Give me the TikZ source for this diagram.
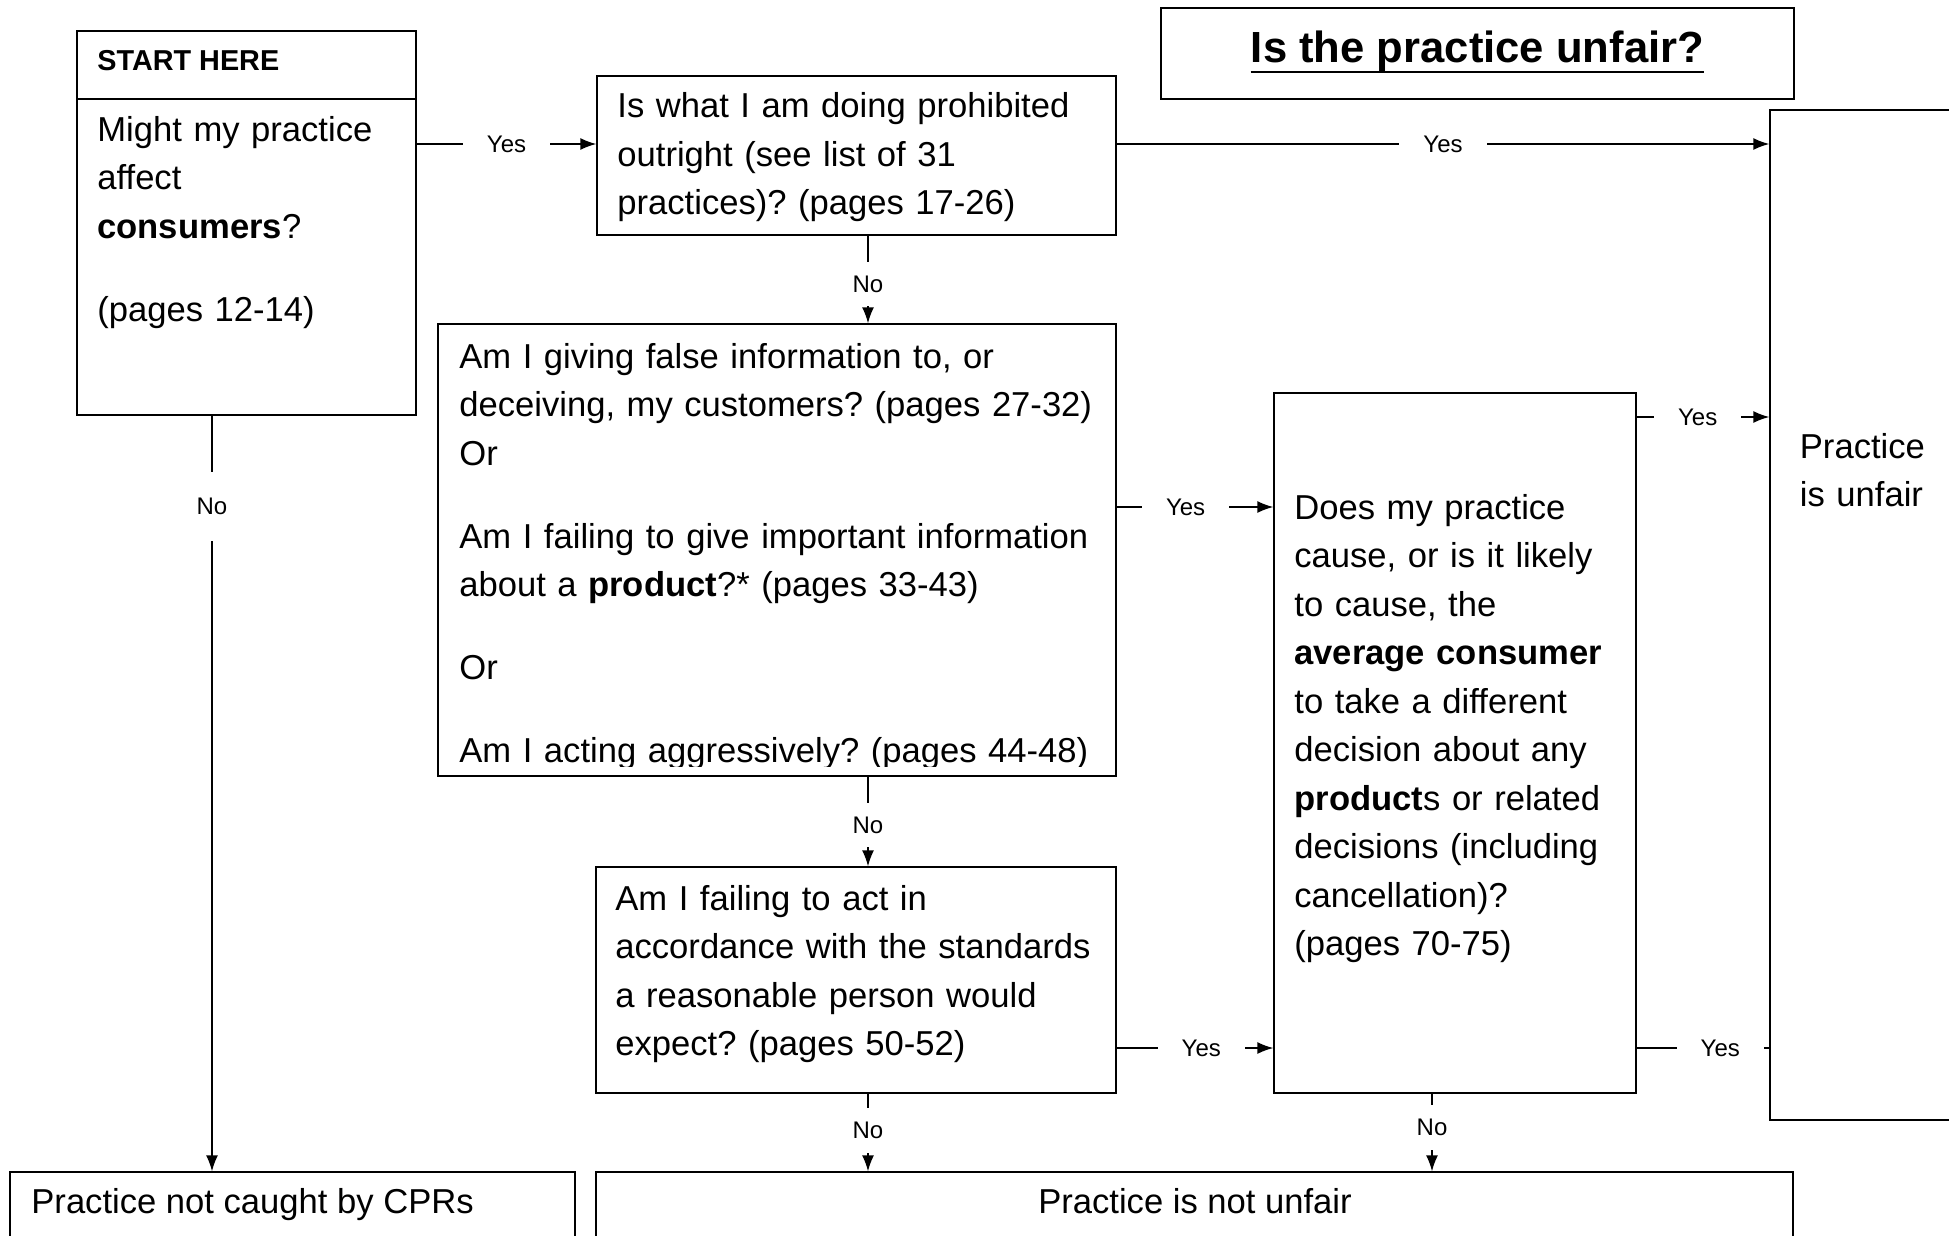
\documentclass[tikz,border=0pt]{standalone}
\usepackage{fontspec}
\setmainfont{Liberation Sans}
\usepackage{tikz}
\usetikzlibrary{arrows.meta}
\usetikzlibrary{fit}
\frenchspacing
\tikzset{box/.style={draw, line width=0.7pt, inner sep=0pt, fit={#1}}}
\tikzset{txt/.style={anchor=base west, inner sep=0pt, align=left, font=\fontsize{17.3}{24.25}\selectfont}}
\tikzset{lbl/.style={fill=white, inner xsep=12pt, inner ysep=7pt, font=\fontsize{12}{14}\selectfont}}
\tikzset{link/.style={line width=0.7pt}}
\tikzset{arr/.style={link, -{Latex[length=8pt,width=6pt]}}}

\begin{document}
\begin{tikzpicture}[x=0.5pt,y=-0.5pt]
\useasboundingbox (0,0) rectangle (1949,1236);
% boxes
\node[box={(77,31) (416,99)}] (head) {};
\node[box={(77,99) (416,415)}] (start) {};
\node[box={(1161,8) (1794,99)}] (title) {};
\node[box={(597,76) (1116,235)}] (prohib) {};
\node[box={(438,324) (1116,776)}] (false) {};
\node[box={(596,867) (1116,1093)}] (stand) {};
\node[box={(1274,393) (1636,1093)}] (avg) {};
\node[box={(1770,110) (1990,1120)}] (unfair) {};
\node[box={(10,1172) (575,1290)}] (notcpr) {};
\node[box={(596,1172) (1793,1290)}] (notunfair) {};
% texts
\node[anchor=base west, inner sep=0pt, font=\fontsize{14.4}{17}\selectfont\bfseries] (head-t) at (97,71) {START HERE};
\node[txt, text width=150pt] (start-t) at (97,141) {Might my practice\\ affect\\ \textbf{consumers}?\\[17.25pt] (pages 12-14)};
\node[anchor=base, inner sep=0pt, font=\fontsize{21.8}{26}\selectfont\bfseries] (title-t) at (1477.5,63) {Is the practice unfair?};
\draw[line width=1.1pt] ([yshift=-4.7pt]title-t.base west) -- ([yshift=-4.7pt]title-t.base east);
\node[txt, text width=240pt] (prohib-t) at (617,118) {Is what I am doing prohibited\\ outright (see list of 31\\ practices)? (pages 17-26)};
\begin{scope}
\clip (false.north west) rectangle ([yshift=5pt]false.south east);
\node[txt, text width=330pt] (false-t) at (459,368) {Am I giving false information to, or\\ deceiving, my customers? (pages 27-32)\\ Or\\[17.25pt] Am I failing to give important information\\ about a \textbf{product}?* (pages 33-43)\\[17.25pt] Or\\[17.25pt] Am I acting aggressively? (pages 44-48)};
\end{scope}
\node[txt, text width=250pt] (stand-t) at (615,910) {Am I failing to act in\\ accordance with the standards\\ a reasonable person would\\ expect? (pages 50-52)};
\node[txt, text width=170pt] (avg-t) at (1294,519) {Does my practice\\ cause, or is it likely\\ to cause, the\\ \textbf{average consumer}\\ to take a different\\ decision about any\\ \textbf{product}s or related\\ decisions (including\\ cancellation)?\\ (pages 70-75)};
\node[txt, text width=80pt] (unfair-t) at (1799.5,458) {Practice\\ is unfair};
\node[txt] (notcpr-t) at (31,1213) {Practice not caught by CPRs};
\node[txt, anchor=base] (notunfair-t) at (1195,1213) {Practice is not unfair};
% connectors
\coordinate (x1) at (868,0);
\coordinate (x2) at (1432,0);
\coordinate (x3) at (212,0);
\coordinate (y1) at (0,144);
\coordinate (y2) at (0,507);
\coordinate (y3) at (0,417);
\coordinate (y4) at (0,1048);
\draw[arr] (start.east |- y1) -- node[lbl] {Yes} (prohib.west |- y1);
\draw[arr] (prohib.east |- y1) -- node[lbl] {Yes} (unfair.west |- y1);
\draw[arr] (prohib.south -| x1) -- node[lbl, pos=0.55] {No} (false.north -| x1);
\draw[arr] (false.east |- y2) -- node[lbl, pos=0.44] {Yes} (avg.west |- y2);
\draw[arr] (avg.east |- y3) -- node[lbl, pos=0.46] {Yes} (unfair.west |- y3);
\draw[arr] (false.south -| x1) -- node[lbl, pos=0.54] {No} (stand.north -| x1);
\draw[arr] (stand.east |- y4) -- node[lbl, pos=0.54] {Yes} (avg.west |- y4);
\draw[link] (avg.east |- y4) -- node[lbl, pos=0.63] {Yes} (unfair.west |- y4);
\draw[arr] (stand.south -| x1) -- node[lbl, pos=0.47] {No} (notunfair.north -| x1);
\draw[arr] (avg.south -| x2) -- node[lbl, pos=0.44] {No} (notunfair.north -| x2);
\draw[arr] (start.south -| x3) -- node[lbl, pos=0.12, inner ysep=13pt] {No} (notcpr.north -| x3);
\end{tikzpicture}
\end{document}
